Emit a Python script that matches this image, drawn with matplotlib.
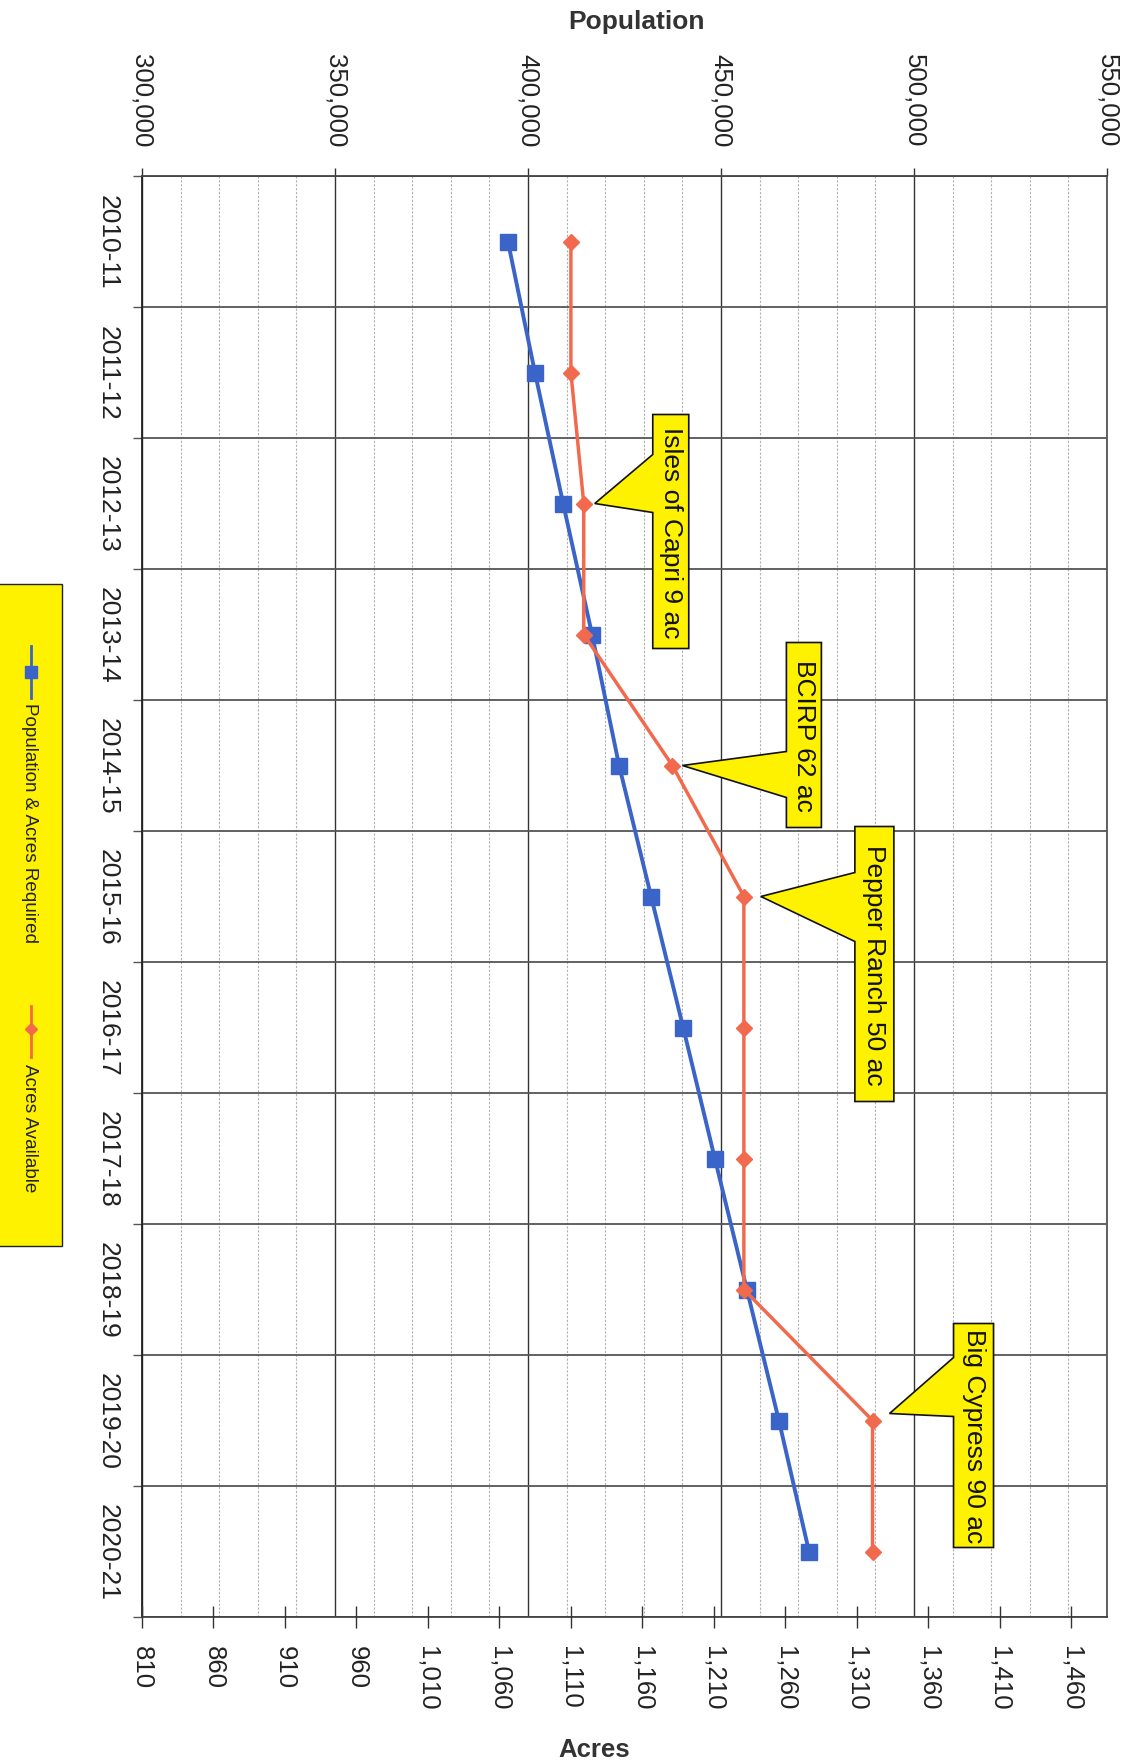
import matplotlib
matplotlib.use('Agg')
import matplotlib.pyplot as plt
import matplotlib.transforms as mtransforms
from matplotlib.ticker import FixedLocator, MultipleLocator, FuncFormatter
from matplotlib.patches import Polygon, Rectangle
from matplotlib.lines import Line2D
import numpy as np

# ---------------- data ----------------
years = ['2010-11', '2011-12', '2012-13', '2013-14', '2014-15', '2015-16',
         '2016-17', '2017-18', '2018-19', '2019-20', '2020-21']
population_required = [394800, 401800, 409100, 416600, 423600, 431900,
                       440200, 448400, 456700, 465000, 472800]
acres_available = [1110, 1110, 1119, 1119, 1181, 1231, 1231, 1231, 1231, 1321, 1321]
population_ticks = [300000, 350000, 400000, 450000, 500000, 550000]
acre_ticks = [810, 860, 910, 960, 1010, 1060, 1110, 1160, 1210, 1260, 1310, 1360, 1410, 1460]
callout_index = [2, 4, 5, 9]
callout_text = ['Isles of Capri 9 ac', 'BCIRP 62 ac', 'Pepper Ranch 50 ac', 'Big Cypress 90 ac']
series_labels = ['Population & Acres Required', 'Acres Available']
axis_titles = ['Population', 'Acres']

# ---------------- style / layout ----------------
BLUE = '#3B64C8'
ORANGE = '#F26A4E'
YELLOW = '#FFF200'
W, H, DPI = 1121, 1765, 100
plt.rcParams['font.family'] = ['Liberation Sans', 'DejaVu Sans']

fig = plt.figure(figsize=(W / DPI, H / DPI), dpi=DPI)
fig.patch.set_facecolor('white')

L, R, T, B = 142, 1107, 177, 1618
ax = fig.add_axes([L / W, 1 - B / H, (R - L) / W, (B - T) / H])
ax2 = ax.twiny()

n = len(years)
ax.set_ylim(n - 0.5, -0.5)
ax.set_xlim(population_ticks[0], population_ticks[-1])
ax2.set_xlim(acre_ticks[0], 1485)

fmt = FuncFormatter(lambda v, p: f'{int(round(v)):,}')

# population axis (top)
ax.xaxis.tick_top()
ax.set_xticks(population_ticks)
ax.xaxis.set_major_formatter(fmt)
ax.xaxis.set_minor_locator(MultipleLocator(10000))
ax.tick_params(axis='x', which='major', top=True, bottom=False, direction='out',
               length=6, width=1, color='#333333', pad=15, labelsize=18.5,
               labelrotation=-90, labelcolor='#222222')
ax.tick_params(axis='x', which='minor', length=0, top=False, bottom=False)

# categories (left)
ax.set_yticks(range(n))
ax.set_yticklabels(years)
ax.yaxis.set_minor_locator(FixedLocator(np.arange(n + 1) - 0.5))
ax.tick_params(axis='y', which='major', length=0, pad=16, labelsize=19,
               labelrotation=-90, labelcolor='#222222')
ax.tick_params(axis='y', which='minor', left=True, right=False, direction='out',
               length=6.5, width=1, color='#555555')
plt.setp(ax.get_yticklabels(), va='center', ha='right')

# acres axis (bottom)
ax2.xaxis.tick_bottom()
ax2.set_xticks(acre_ticks)
ax2.xaxis.set_major_formatter(fmt)
ax2.tick_params(axis='x', which='major', bottom=True, top=False, direction='inout',
                length=16, width=1, color='#333333', pad=12, labelsize=18.5,
                labelrotation=-90, labelcolor='#222222')
for s in ax2.spines.values():
    s.set_visible(False)

# grid
ax.set_axisbelow(True)
ax.grid(which='major', axis='x', color='#333333', lw=1.0)
ax.grid(which='minor', axis='x', color='#b0b0b0', lw=0.8, ls=(0, (2, 1.5)))
ax.grid(which='minor', axis='y', color='#555555', lw=1.3)
ax.grid(which='major', axis='y', visible=False)

for side, c in [('top', '#444444'), ('bottom', '#444444'), ('left', '#222222'), ('right', '#555555')]:
    ax.spines[side].set_color(c)
    ax.spines[side].set_linewidth(1.3)

# series
ax.plot(population_required, range(n), color=BLUE, lw=2.8, marker='s', ms=11,
        zorder=3, clip_on=False)
ax2.plot(acres_available, range(n), color=ORANGE, lw=2.5, marker='D', ms=8.5,
         zorder=3, clip_on=False)

# callouts: box + wedge, offsets in pixels from the annotated point (y up)
callout_layout = [
    (69, 105, 89, -145, 49, -9, 11, 0),
    (114, 149, 123, -62, 14, -32, 10, 0),
    (111, 150, 70, -205, 24, -45, 17, 0),
    (81, 121, 97, -127, 63, 4, 17, 7),
]
for idx, txt, (bl, br, bt, bb, wt, wb, tx, ty) in zip(callout_index, callout_text, callout_layout):
    trans = mtransforms.ScaledTranslation(acres_available[idx], idx, ax2.transData)
    verts = [(bl, bt), (br, bt), (br, bb), (bl, bb), (bl, wb), (tx, ty), (bl, wt)]
    poly = Polygon(verts, closed=True, transform=trans, facecolor=YELLOW,
                   edgecolor='#111111', lw=1.2, joinstyle='miter', zorder=5)
    fig.add_artist(poly)
    fig.text((bl + br) / 2, (bt + bb) / 2, txt, transform=trans, rotation=-90,
             ha='center', va='center', fontsize=19, color='#111111', zorder=6)

# legend (drawn manually, rotated)
ident = mtransforms.IdentityTransform()
fig.add_artist(Rectangle((-2, H - 1247), 64, 662, transform=ident, facecolor=YELLOW,
                         edgecolor='#222222', lw=1.0, zorder=5))
legend_layout = [(647, 699, 673, 703, BLUE, 's', 8), (1007, 1058, 1030, 1064, ORANGE, 'D', 6.5)]
for lab, (y0, y1, ym, yt, col, mk, ms) in zip(series_labels, legend_layout):
    fig.add_artist(Line2D([31, 31], [H - y0, H - y1], color=col, lw=2.0,
                          transform=ident, zorder=6))
    fig.add_artist(Line2D([31], [H - ym], color=col, marker=mk, ms=ms, lw=0,
                          transform=ident, zorder=7))
    fig.text(29, H - yt, lab, transform=ident, rotation=-90, ha='center', va='top',
             fontsize=13.6, color='#222222', zorder=7)

# axis titles
fig.text(637, H - 22, axis_titles[0], transform=ident, ha='center', va='center',
         fontsize=19, fontweight='bold', color='#333333')
fig.text(594, H - 1750, axis_titles[1], transform=ident, ha='center', va='center',
         fontsize=18.5, fontweight='bold', color='#333333')

fig.savefig('out.png', dpi=DPI, facecolor='white')
